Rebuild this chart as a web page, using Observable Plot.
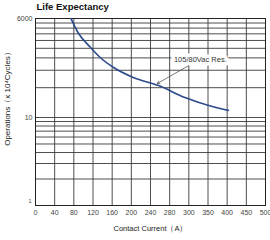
<!DOCTYPE html>
<html>
<head>
<meta charset="utf-8">
<script src="https://cdn.jsdelivr.net/npm/d3@7"></script>
<script src="https://cdn.jsdelivr.net/npm/@observablehq/plot@0.6"></script>
<style>
  html, body { margin: 0; padding: 0; background: #fff; }
  #chart { width: 270px; height: 240px; }
  svg { font-family: "Liberation Sans", Arial, sans-serif; }
</style>
</head>
<body>
<div id="chart"></div>
<script>
// ---- data ----
const xTicks = [0, 40, 80, 120, 160, 200, 240, 280, 300, 350, 400, 450, 500];
const yDecades = [1, 10, 100];
const yTickLabels = ["1", "10", "6000"];
const yGrid = [1, 2, 3, 4, 5, 6, 7, 8, 9, 10, 20, 30, 40, 50, 60, 70, 80, 90, 100];

const current = [74, 90, 115, 135, 163, 204, 257, 296, 361, 403];
const operations = [100, 70.5, 50.9, 40.4, 32.0, 25.4, 21.0, 15.9, 12.9, 11.8];

const annText = ["105/80Vac Res."];
const annX = [330];
const annY = [38.5];
const arrowFrom = [[300, 33.5]];
const arrowTo = [[254, 22]];

const title = "Life Expectancy";
const xLabel = "Contact Current（A）";
const yLabel = "Operations（x 10⁴Cycles）";

// ---- layout ----
const W = 270, H = 240;
const mLeft = 35, mRightEdge = 265, mTopEdge = 18, mBottomEdge = 205;
const yRange = [mBottomEdge, 117, mTopEdge];
// the printed axis is evenly spaced between unevenly stepped labels
const toSlot = d3.scaleLinear(xTicks, d3.range(xTicks.length));

const curveData = current.map((c, i) => ({c, o: operations[i]}));
const ann = annText.map((t, i) => ({t, x: annX[i], y: annY[i]}));
const arrows = arrowFrom.map((f, i) => ({x1: f[0], y1: f[1], x2: arrowTo[i][0], y2: arrowTo[i][1]}));

const chart = Plot.plot({
  width: W,
  height: H,
  marginLeft: mLeft,
  marginRight: W - mRightEdge,
  marginTop: mTopEdge,
  marginBottom: H - mBottomEdge,
  style: {fontFamily: "Liberation Sans, Arial, sans-serif", background: "white"},
  x: {type: "linear", domain: [0, xTicks.length - 1], transform: v => toSlot(v)},
  y: {type: "log", domain: yDecades, range: yRange},
  marks: [
    Plot.ruleY(yGrid, {stroke: "#3a3a3a", strokeWidth: 0.9}),
    Plot.ruleX(xTicks, {stroke: "#3a3a3a", strokeWidth: 0.9}),
    Plot.frame({stroke: "#222", strokeWidth: 1}),
    Plot.line(curveData, {x: "c", y: "o", stroke: "#2b4a8c", strokeWidth: 1.6, curve: "monotone-x"}),
    Plot.arrow(arrows, {x1: "x1", y1: "y1", x2: "x2", y2: "y2", stroke: "#555", strokeWidth: 0.8, headLength: 5}),
    Plot.text(ann, {x: "x", y: "y", text: "t", fontSize: 7.5, fill: "#333", stroke: "white", strokeWidth: 7}),
    Plot.axisX(xTicks, {tickSize: 0, tickPadding: 5, fontSize: 7, tickFormat: d => String(d), color: "#444", label: null}),
    Plot.axisY({ticks: [10, 100], tickSize: 0, tickPadding: 3, fontSize: 7, tickFormat: d => yTickLabels[yDecades.indexOf(d)], color: "#444", label: null}),
    Plot.text([1], {frameAnchor: "bottom-left", text: d => yTickLabels[0], fontSize: 5.5, dx: -7, dy: -3, fill: "#444"}),
    Plot.text([title], {frameAnchor: "top-left", dy: -15, dx: 1, text: d => d, fontSize: 9.5, fontWeight: "bold", textAnchor: "start", lineAnchor: "top", fill: "#111"}),
    Plot.text([xLabel], {frameAnchor: "bottom", dy: 23, text: d => d, fontSize: 7.5, fill: "#222", lineAnchor: "middle"}),
    Plot.text([yLabel], {frameAnchor: "left", dx: -28, dy: -15, rotate: -90, textAnchor: "middle", text: d => d, fontSize: 8, fill: "#222"})
  ]
});
document.getElementById("chart").appendChild(chart);
</script>
</body>
</html>
